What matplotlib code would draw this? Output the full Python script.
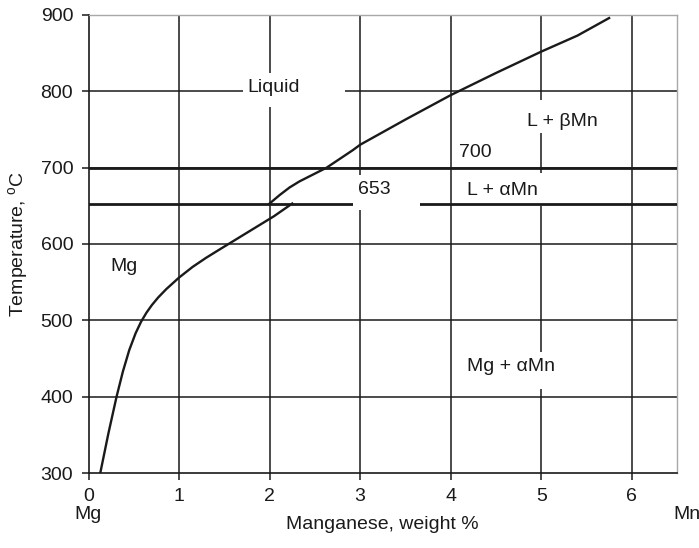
import matplotlib
matplotlib.use("Agg")
import matplotlib.pyplot as plt
from matplotlib.patches import Rectangle

plt.rcParams["font.family"] = ["Liberation Sans", "DejaVu Sans"]
plt.rcParams["mathtext.fontset"] = "custom"
plt.rcParams["mathtext.rm"] = "Liberation Sans"

# Mg-rich liquidus down to the 653 C peritectic
mg_liq_x = [0.13, 0.22, 0.31, 0.38, 0.45, 0.52, 0.58, 0.64, 0.70, 0.77,
            0.86, 1.0, 1.15, 1.3, 1.45, 1.65, 1.85, 2.05, 2.25]
mg_liq_y = [300, 352, 400, 433, 461, 483, 498, 510, 520, 530,
            541, 556, 570, 582, 593, 607.5, 622, 636.5, 653]

# Mn liquidus from the peritectic up to 900 C
mn_liq_x = [2.0, 2.11, 2.22, 2.33, 2.48, 2.63, 2.92, 3.0, 3.5, 4.0,
            4.5, 5.0, 5.4, 5.75]
mn_liq_y = [653, 664, 674, 682, 691, 700, 723, 730, 763, 795,
            824, 852, 873, 896]

# invariant temperatures
iso_temps = [700, 653]

x_ticks = [0, 1, 2, 3, 4, 5, 6]
y_ticks = [300, 400, 500, 600, 700, 800, 900]

# label text, anchor (left, middle), white backing box (x0, x1, y0, y1), zorder
labels = [
    ("Liquid", 1.76, 805, (1.705, 2.831, 779.5, 824), 2),
    ("653", 2.975, 672, (2.92, 3.66, 644.5, 690.4), 3.5),
    ("700", 4.09, 720.5, (4.045, 4.51, 705, 736), 2),
    ("L + \u03b2Mn", 4.84, 760.5, (4.763, 5.70, 746, 789), 2),
    ("L + \u03b1Mn", 4.178, 670, (4.10, 5.07, 650, 693), 2),
    ("Mg + \u03b1Mn", 4.178, 439, (4.10, 5.26, 410, 458.5), 2),
    ("Mg", 0.245, 570, None, 2),
]

ink = "#1a1a1a"
fs = 14

fig = plt.figure(figsize=(6.99, 5.48), dpi=100)
ax = fig.add_axes([88.5 / 699, 1 - 473 / 548, (677 - 88.5) / 699, (473 - 15) / 548])

ax.set_xlim(0, 6.5)
ax.set_ylim(300, 900)
ax.set_xticks(x_ticks)
ax.set_yticks(y_ticks)

ax.grid(True, color=ink, linewidth=1.1, zorder=1)
ax.set_axisbelow(True)
ax.yaxis.get_gridlines()[-1].set_visible(False)
ax.yaxis.get_gridlines()[0].set_visible(False)
ax.xaxis.get_gridlines()[0].set_visible(False)

for t in iso_temps:
    ax.axhline(t, color=ink, linewidth=2.0, zorder=3)

ax.plot(mg_liq_x, mg_liq_y, color=ink, linewidth=1.7, zorder=4,
        solid_joinstyle="round")
ax.plot(mn_liq_x, mn_liq_y, color=ink, linewidth=1.7, zorder=4,
        solid_joinstyle="round")

for text, tx, ty, box, bz in labels:
    if box is not None:
        x0, x1, y0, y1 = box
        ax.add_patch(Rectangle((x0, y0), x1 - x0, y1 - y0, facecolor="white",
                               edgecolor="none", zorder=bz))
    ax.text(tx, ty, text, ha="left", va="center", fontsize=fs, color=ink, zorder=5)

for side in ["top", "right"]:
    ax.spines[side].set_color("#a8a8a8")
    ax.spines[side].set_linewidth(1.0)
for side in ["left", "bottom"]:
    ax.spines[side].set_color(ink)
    ax.spines[side].set_linewidth(1.2)

ax.tick_params(axis="both", direction="out", length=5, width=1.1, color=ink,
               labelsize=fs, labelcolor=ink, pad=6)

ax.text(0, -0.09, "Mg", transform=ax.get_xaxis_transform(), ha="center",
        va="center", fontsize=fs, color=ink)
ax.text(6.61, -0.09, "Mn", transform=ax.get_xaxis_transform(), ha="center",
        va="center", fontsize=fs, color=ink)

ax.set_xlabel("Manganese, weight %", fontsize=fs, color=ink)
ax.xaxis.set_label_coords(0.5, -0.093)
ax.set_ylabel("Temperature, $^{\\mathrm{o}}$C", fontsize=fs, color=ink)
ax.yaxis.set_label_coords(-0.097, 0.5)

fig.savefig("out.png", dpi=100)
